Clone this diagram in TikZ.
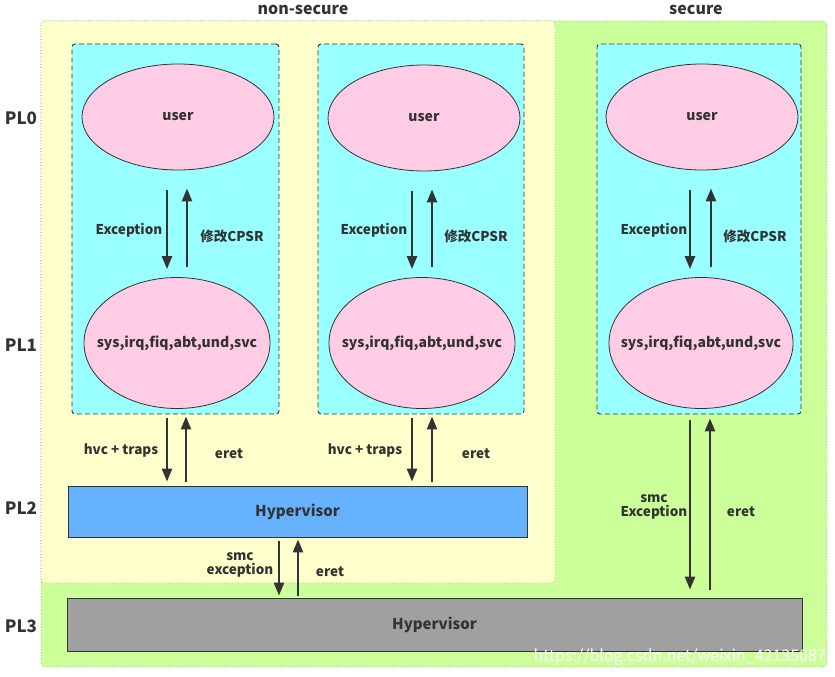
\documentclass[tikz,border=0pt]{standalone}
\usepackage{fontspec}
\setmainfont{Noto Sans CJK SC}
\usetikzlibrary{shapes.geometric,arrows.meta}
\definecolor{ylw}{HTML}{FFFFCC}
\definecolor{grn}{HTML}{CCFF99}
\definecolor{cyn}{HTML}{99FFFF}
\definecolor{pnk}{HTML}{FFCCE6}
\definecolor{blu}{HTML}{66B2FF}
\definecolor{gry}{HTML}{A0A0A0}
\definecolor{ink}{HTML}{333333}
\tikzset{
  region/.style={draw=gray!70, dotted, line width=0.8pt, rounded corners=4pt},
  mode/.style={draw=ink, dash pattern=on 5pt off 3pt, fill=cyn, line width=0.9pt, rounded corners=3pt, inner sep=0pt},
  blob/.style={ellipse, draw=ink, fill=pnk, line width=0.8pt, inner sep=0pt},
  blobtext/.style={font=\bfseries\fontsize{14}{16}\selectfont, text=ink, inner sep=0pt},
  bar/.style={draw=ink, line width=0.8pt, font=\bfseries\fontsize{15}{18}\selectfont, text=ink, inner sep=0pt},
  arr/.style={draw=ink, line width=2.4pt, -{Triangle[length=13pt,width=10pt]}},
  lbl/.style={font=\bfseries\fontsize{13.5}{16}\selectfont, text=ink, align=center, inner sep=0pt},
  pl/.style={font=\bfseries\fontsize{17}{20}\selectfont, text=ink, inner sep=0pt},
  ttl/.style={font=\bfseries\fontsize{16}{19}\selectfont, text=ink, inner sep=0pt}
}
\begin{document}
\begin{tikzpicture}[x=1pt,y=-1pt]
\useasboundingbox (0,0) rectangle (835,677);
\fill[white] (0,0) rectangle (835,677);
% regions
\path[region, fill=grn] (41,21) rectangle (827,667);
\path[region, fill=ylw] (41,21) rectangle (555,583);
\node[ttl] (tns) at (303,10) {non-secure};
\node[ttl] (ts) at (696,10) {secure};
% PL labels
\node[pl] (pl0) at (21,118) {PL0};
\node[pl] (pl1) at (21,345) {PL1};
\node[pl] (pl2) at (21,508) {PL2};
\node[pl] (pl3) at (21,626) {PL3};
% mode boxes
\node[mode, minimum width=207pt, minimum height=370pt] (c1) at (175.5,229) {};
\node[mode, minimum width=206pt, minimum height=370pt] (c2) at (421,229) {};
\node[mode, minimum width=204pt, minimum height=370pt] (c3) at (699,229) {};
% ellipses
\node[blob, minimum width=192pt, minimum height=106pt, label={[blobtext]center:user}] (u1) at (178,117) {};
\node[blob, minimum width=186pt, minimum height=131pt, label={[blobtext]center:sys,irq,fiq,abt,und,svc}] (s1) at (177,343) {};
\node[blob, minimum width=192pt, minimum height=106pt, label={[blobtext]center:user}] (u2) at (424,118) {};
\node[blob, minimum width=186pt, minimum height=131pt, label={[blobtext]center:sys,irq,fiq,abt,und,svc}] (s2) at (422,343) {};
\node[blob, minimum width=192pt, minimum height=106pt, label={[blobtext]center:user}] (u3) at (702,117) {};
\node[blob, minimum width=184pt, minimum height=131pt, label={[blobtext]center:sys,irq,fiq,abt,und,svc}] (s3) at (701,343) {};
% bars
\node[bar, fill=blu, minimum width=459pt, minimum height=51pt] (hyp) at (297.5,511.5) {Hypervisor};
\node[bar, fill=gry, minimum width=735pt, minimum height=53pt] (mon) at (434.5,624.5) {Hypervisor};
% user <-> sys arrows
\draw[arr, shorten <=20pt, shorten >=8pt] ([xshift=-11pt]u1.south) -- ([xshift=-11pt]u1.south |- s1.north);
\draw[arr, shorten <=10pt, shorten >=18pt] ([xshift=9pt]u1.south |- s1.north) -- ([xshift=9pt]u1.south);
\draw[arr, shorten <=20pt, shorten >=8pt] ([xshift=-12pt]u2.south) -- ([xshift=-12pt]u2.south |- s2.north);
\draw[arr, shorten <=10pt, shorten >=18pt] ([xshift=8pt]u2.south |- s2.north) -- ([xshift=8pt]u2.south);
\draw[arr, shorten <=20pt, shorten >=8pt] ([xshift=-12pt]u3.south) -- ([xshift=-12pt]u3.south |- s3.north);
\draw[arr, shorten <=10pt, shorten >=18pt] ([xshift=9pt]u3.south |- s3.north) -- ([xshift=9pt]u3.south);
\node[lbl] (e1) at (129,230) {Exception};
\node[lbl] (m1) at (232,236) {修改CPSR};
\node[lbl] (e2) at (374,230) {Exception};
\node[lbl] (m2) at (476,236) {修改CPSR};
\node[lbl] (e3) at (654,230) {Exception};
\node[lbl] (m3) at (755,236) {修改CPSR};
% hvc arrows
\draw[arr, shorten <=4pt, shorten >=4pt] ([xshift=-8.5pt]c1.south) -- ([xshift=-8.5pt]c1.south |- hyp.north);
\draw[arr, shorten <=4pt, shorten >=2pt] ([xshift=10.5pt]c1.south |- hyp.north) -- ([xshift=10.5pt]c1.south);
\draw[arr, shorten <=4pt, shorten >=4pt] ([xshift=-9pt]c2.south) -- ([xshift=-9pt]c2.south |- hyp.north);
\draw[arr, shorten <=4pt, shorten >=2pt] ([xshift=11pt]c2.south |- hyp.north) -- ([xshift=11pt]c2.south);
\node[lbl] (h1) at (121,450) {hvc + traps};
\node[lbl] (r1) at (229,454) {eret};
\node[lbl] (h2) at (365,450) {hvc + traps};
\node[lbl] (r2) at (476,454) {eret};
% smc arrows (non-secure)
\draw[arr, shorten <=4pt, shorten >=2pt] ([xshift=-18.5pt]hyp.south) -- ([xshift=-18.5pt]hyp.south |- mon.north);
\draw[arr, shorten <=2pt, shorten >=2pt] ([xshift=0.5pt]hyp.south |- mon.north) -- ([xshift=0.5pt]hyp.south);
\node[lbl] (sm1) at (240,565) {smc\\[-2pt]exception};
\node[lbl] (r3) at (330,572) {eret};
% secure arrows
\draw[arr, shorten <=6pt, shorten >=8pt] ([xshift=-9pt]c3.south) -- ([xshift=-9pt]c3.south |- mon.north);
\draw[arr, shorten <=8pt, shorten >=4pt] ([xshift=11pt]c3.south |- mon.north) -- ([xshift=11pt]c3.south);
\node[lbl] (sm2) at (654,507) {smc\\[-2pt]Exception};
\node[lbl] (r4) at (741,512) {eret};
% watermark
\node[font=\fontsize{16}{18}\selectfont, text=white, inner sep=0pt, anchor=east] (wm) at (826,657) {https://blog.csdn.net/weixin\_42135087};
\end{tikzpicture}
\end{document}
